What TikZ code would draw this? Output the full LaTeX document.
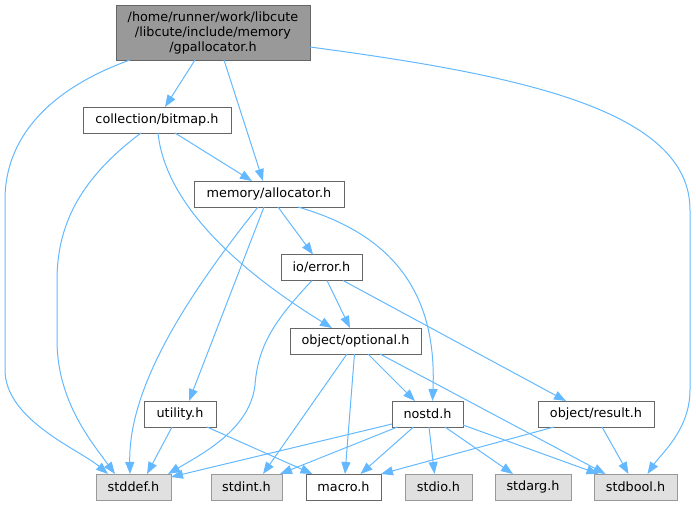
\documentclass[tikz,border=0pt]{standalone}
\usepackage{fontspec}
\setmainfont{DejaVu Sans}
\usetikzlibrary{arrows.meta,calc}
\definecolor{edgec}{HTML}{63B8FF}
\definecolor{rootfill}{HTML}{999999}
\definecolor{bord}{HTML}{666666}
\definecolor{extfill}{HTML}{E0E0E0}
\definecolor{extbord}{HTML}{999999}
\begin{document}
\begin{tikzpicture}[x=1pt,y=-1pt,
  every node/.style={font=\fontsize{12.8}{15}\selectfont, inner sep=0pt, outer sep=0pt, minimum height=26pt, anchor=center},
  file/.style={draw=bord, fill=white, line width=0.9pt},
  ext/.style={draw=extbord, fill=extfill, line width=0.9pt},
  rootnode/.style={draw=bord, fill=rootfill, line width=0.9pt, align=center},
  e/.style={draw=edgec, line width=1pt, -{Triangle[length=12pt,width=9pt]}}]
\useasboundingbox (0,0) rectangle (696,505);
\node[rootnode, minimum width=194pt, minimum height=55pt] (root) at (213,32.5) {/home/runner/work/libcute\\/libcute/include/memory\\/gpallocator.h};
\node[file, minimum width=148pt] (bitmap) at (157,120) {collection/bitmap.h};
\node[file, minimum width=150pt] (allocator) at (269,194) {memory/allocator.h};
\node[file, minimum width=81pt] (ioerror) at (321.5,267.5) {io/error.h};
\node[file, minimum width=131pt] (optional) at (355.5,341) {object/optional.h};
\node[file, minimum width=72pt] (utility) at (180,414) {utility.h};
\node[file, minimum width=71pt] (nostd) at (427.5,414) {nostd.h};
\node[file, minimum width=116pt] (result) at (596,414) {object/result.h};
\node[ext, minimum width=75pt] (stddef) at (133.5,487) {stddef.h};
\node[ext, minimum width=71pt] (stdint) at (246.5,487) {stdint.h};
\node[file, minimum width=75pt] (macro) at (343.5,487) {macro.h};
\node[ext, minimum width=67pt] (stdio) at (438.5,487) {stdio.h};
\node[ext, minimum width=76pt] (stdarg) at (533,487) {stdarg.h};
\node[ext, minimum width=83pt] (stdbool) at (635.5,487) {stdbool.h};
% root edges
\draw[e] ($(root.south)+(-83,0)$) .. controls (60,85) and (5,130) .. (5,200) -- (5,370) .. controls (5,420) and (80,450) .. ($(stddef.north)+(-25.5,0)$);
\draw[e] ($(root.south)+(-18,0)$) -- ($(bitmap.north)+(8,0)$);
\draw[e] ($(root.south)+(11,0)$) -- ($(allocator.north)+(-6,0)$);
\draw[e] ($(root.east)+(0,14.5)$) .. controls (520,75) and (690,110) .. (690,210) -- (690,390) .. controls (690,430) and (660,455) .. ($(stdbool.north)+(12,0)$);
% bitmap edges
\draw[e] ($(bitmap.south)+(-16,0)$) .. controls (85,175) and (57,220) .. (57,280) -- (57,340) .. controls (57,400) and (90,440) .. ($(stddef.north)+(-18.5,0)$);
\draw[e] ($(bitmap.south)+(18,0)$) -- ($(allocator.north)+(-17,0)$);
\draw[e] ($(bitmap.south)+(1,0)$) .. controls (165,200) and (230,265) .. ($(optional.north)+(-23.5,0)$);
% allocator edges
\draw[e] ($(allocator.south)+(-11,0)$) .. controls (200,280) and (128,380) .. ($(stddef.north)+(-3.5,0)$);
\draw[e] ($(allocator.south)+(-5,0)$) -- ($(utility.north)+(9,0)$);
\draw[e] ($(allocator.south)+(9,0)$) -- ($(ioerror.north)+(-8.5,0)$);
\draw[e] ($(allocator.south)+(29,0)$) .. controls (395,235) and (437,295) .. ($(nostd.north)+(5,0)$);
% io/error edges
\draw[e] ($(ioerror.south)+(-9.5,0)$) .. controls (275,320) and (258,345) .. (255,385) .. controls (250,430) and (200,455) .. ($(stddef.north)+(34.5,0)$);
\draw[e] ($(ioerror.south)+(5.5,0)$) -- ($(optional.north)+(-5.5,0)$);
\draw[e] ($(ioerror.south)+(21.5,0)$) -- ($(result.north)+(-30,0)$);
% optional edges
\draw[e] ($(optional.south)+(-8.5,0)$) -- ($(stdint.north)+(16.5,0)$);
\draw[e] ($(optional.south)+(-1,0)$) -- ($(macro.north)+(1.5,0)$);
\draw[e] ($(optional.south)+(12.5,0)$) -- ($(nostd.north)+(-12.5,0)$);
\draw[e] ($(optional.south)+(24.5,0)$) -- ($(stdbool.north)+(-30,0)$);
% utility edges
\draw[e] ($(utility.south)+(-8,0)$) -- ($(stddef.north)+(13.5,0)$);
\draw[e] ($(utility.south)+(27,0)$) -- ($(macro.north)+(-31,0)$);
% nostd edges
\draw[e] ($(nostd.west)+(0,10)$) -- ($(stddef.east)+(0,-10)$);
\draw[e] ($(nostd.south)+(-30,0)$) -- ($(stdint.north east)+(-2,0)$);
\draw[e] ($(nostd.south)+(-14,0)$) -- ($(macro.north)+(17,0)$);
\draw[e] ($(nostd.south)+(1.5,0)$) -- ($(stdio.north)+(-4,0)$);
\draw[e] ($(nostd.south)+(17.5,0)$) -- ($(stdarg.north)+(-20,0)$);
\draw[e] ($(nostd.east)+(0,11)$) -- ($(stdbool.north)+(-37,0)$);
% result edges
\draw[e] ($(result.south)+(-42,0)$) -- (macro.north east);
\draw[e] ($(result.south)+(6,0)$) -- ($(stdbool.north)+(-7,0)$);
\end{tikzpicture}
\end{document}
